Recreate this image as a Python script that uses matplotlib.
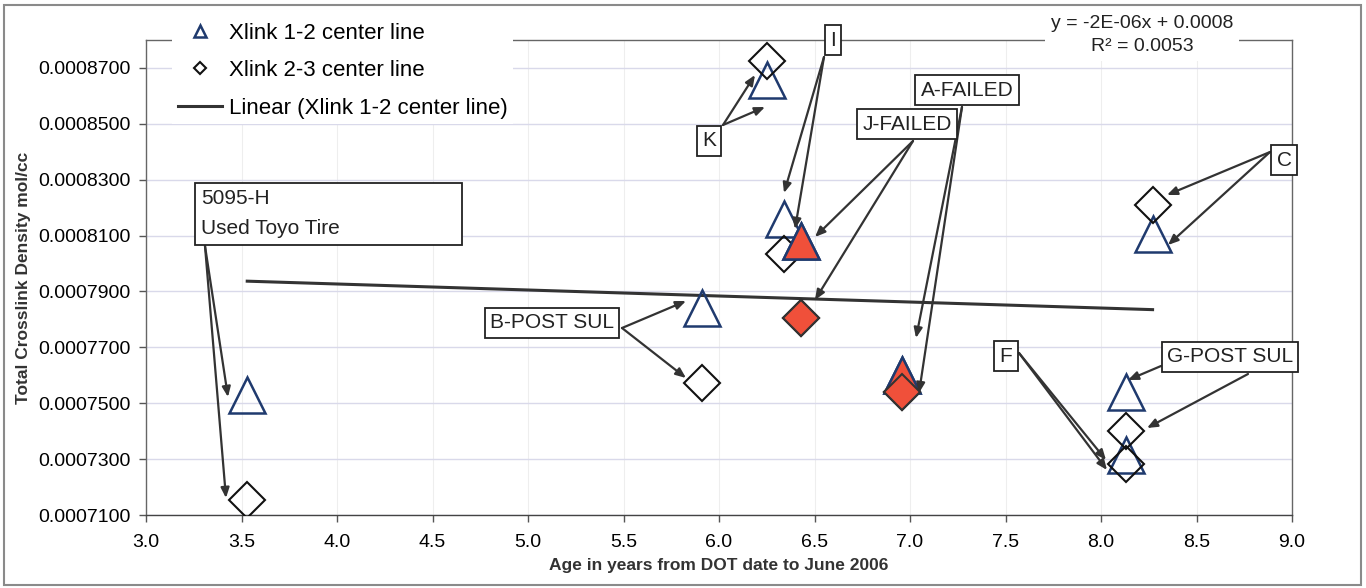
import numpy as np
import matplotlib.pyplot as plt
from matplotlib.patches import Rectangle
from matplotlib.ticker import FormatStrFormatter

plt.rcParams['font.family'] = ['Liberation Sans', 'DejaVu Sans']

# 数据：Xlink 1-2（三角形）与 Xlink 2-3（菱形）
age_12 = [3.53, 5.91, 6.25, 6.34, 6.43, 6.96, 8.13, 8.13, 8.27]
xlink_12 = [0.000753, 0.000784, 0.0008656, 0.000816, 0.000808, 0.000760,
            0.000754, 0.0007315, 0.0008105]
failed_12 = [False, False, False, False, True, True, False, False, False]

age_23 = [3.53, 5.91, 6.25, 6.34, 6.43, 6.96, 8.13, 8.13, 8.27]
xlink_23 = [0.0007154, 0.0007572, 0.0008724, 0.0008034, 0.0007805, 0.000754,
            0.000740, 0.0007282, 0.0008209]
failed_23 = [False, False, False, False, True, True, False, False, False]

x_ticks = np.arange(3.0, 9.01, 0.5)
y_ticks = np.arange(0.00071, 0.000871, 0.00002)

fig = plt.figure(figsize=(13.66, 5.88), dpi=100)
W, H = 1366, 588
L, R, T, B = 146, 1292, 40, 515
ax = fig.add_axes([L / W, 1 - B / H, (R - L) / W, (B - T) / H])


def axf(px, py):
    # 像素 -> 坐标轴比例
    return ((px - L) / (R - L), (B - py) / (B - T))


# 外框
fig.patches.append(Rectangle((4 / W, 3 / H), 1357 / W, 580 / H, transform=fig.transFigure,
                             fill=False, edgecolor='#8a8a8a', lw=1.5))

navy = '#1f3a6e'
red = '#f0503a'

a12 = np.array(age_12)
y12 = np.array(xlink_12)
a23 = np.array(age_23)
y23 = np.array(xlink_23)
f12 = np.array(failed_12)
f23 = np.array(failed_23)

ax.plot(a12, y12, '^', ms=26.5, mfc='none', mec=navy, mew=1.8, ls='none',
        label='Xlink 1-2 center line', zorder=4)
ax.plot(a23, y23, 'D', ms=18.5, mfc='none', mec='#111111', mew=1.5, ls='none',
        label='Xlink 2-3 center line', zorder=4)
ax.plot(a12[f12], y12[f12], '^', ms=26.5, mfc=red, mec=navy, mew=1.8, ls='none', zorder=5)
ax.plot(a23[f23], y23[f23], 'D', ms=18.5, mfc=red, mec='#333333', mew=1.5, ls='none', zorder=5)

# 线性趋势线
coef = np.polyfit(a12, y12, 1)
xt = np.array([a12.min(), a12.max()])
ax.plot(xt, np.polyval(coef, xt), '-', color='#333333', lw=2.2,
        label='Linear (Xlink 1-2 center line)', zorder=3)

ax.set_xlim(3.0, 9.0)
ax.set_ylim(0.00071, 0.00088)
ax.set_xticks(x_ticks)
ax.set_yticks(y_ticks)
ax.xaxis.set_major_formatter(FormatStrFormatter('%.1f'))
ax.yaxis.set_major_formatter(FormatStrFormatter('%.7f'))
ax.tick_params(axis='both', labelsize=14, length=5, width=1, color='#555555', pad=6)
ax.tick_params(axis='x', pad=9)
ax.grid(True, axis='y', color='#d9d9ea', lw=1)
ax.grid(True, axis='x', color='#eeeeee', lw=0.8)
ax.set_axisbelow(True)
for s in ax.spines.values():
    s.set_color('#666666')
    s.set_linewidth(1)
ax.spines['bottom'].set_color('#444444')

ax.set_xlabel('Age in years from DOT date to June 2006', fontsize=12.5, fontweight='bold',
              labelpad=5, color='#333333')
ax.set_ylabel('Total Crosslink Density mol/cc', fontsize=12.5, fontweight='bold',
              labelpad=5, color='#333333')

leg = ax.legend(loc='upper left', bbox_to_anchor=axf(172, 17), bbox_transform=ax.transAxes,
                borderaxespad=0, borderpad=0.25, handlelength=2.0, handletextpad=0.3,
                labelspacing=0.75, markerscale=0.35, fontsize=16, frameon=True,
                fancybox=False, framealpha=1)
leg.get_frame().set_facecolor('white')
leg.get_frame().set_edgecolor('none')
leg.set_zorder(10)

# 趋势线方程
ax.text(*axf(1142, 35), 'y = -2E-06x + 0.0008\nR² = 0.0053', transform=ax.transAxes,
        ha='center', va='center', fontsize=14, linespacing=1.45, color='#222222',
        bbox=dict(facecolor='white', edgecolor='none', pad=4), zorder=10, clip_on=False)

# 标注框
box_kw = dict(boxstyle='square,pad=0.25', facecolor='white', edgecolor='#222222', lw=1.3)
labels = [('K', 709, 141), ('I', 833, 40), ('J-FAILED', 907, 124), ('A-FAILED', 967, 90),
          ('B-POST SUL', 552, 323), ('C', 1284, 160), ('F', 1006, 356),
          ('G-POST SUL', 1230, 357)]
for txt, px, py in labels:
    ax.text(*axf(px, py), txt, transform=ax.transAxes, ha='center', va='center',
            fontsize=15, color='#222222', bbox=box_kw, zorder=9, clip_on=False)

x0, y0 = axf(195, 245)
x1, y1 = axf(462, 183)
ax.add_patch(Rectangle((x0, y0), x1 - x0, y1 - y0, transform=ax.transAxes,
                       facecolor='white', edgecolor='#222222', lw=1.3, zorder=8))
ax.text(*axf(201, 199), '5095-H', transform=ax.transAxes, ha='left', va='center',
        fontsize=15, color='#222222', zorder=9)
ax.text(*axf(201, 229), 'Used Toyo Tire', transform=ax.transAxes, ha='left', va='center',
        fontsize=15, color='#222222', zorder=9)

# 箭头
arrows = [((205, 246), (228, 397)), ((205, 246), (226, 498)),
          ((723, 125), (755, 75)), ((723, 125), (765, 107)),
          ((824, 57), (784, 193)), ((824, 57), (795, 229)),
          ((913, 141), (815, 237)), ((913, 141), (815, 300)),
          ((962, 107), (916, 338)), ((962, 107), (919, 393)),
          ((622, 328), (686, 301)), ((622, 328), (686, 378)),
          ((1270, 152), (1167, 195)), ((1270, 152), (1168, 245)),
          ((1019, 353), (1106, 460)), ((1019, 353), (1107, 470)),
          ((1161, 366), (1128, 380)), ((1248, 374), (1147, 428))]
for (sx, sy), (ex, ey) in arrows:
    ax.annotate('', xy=axf(ex, ey), xytext=axf(sx, sy), xycoords='axes fraction',
                textcoords='axes fraction',
                arrowprops=dict(arrowstyle='-|>,head_length=0.6,head_width=0.25',
                                color='#333333', lw=1.6, shrinkA=0, shrinkB=0),
                zorder=7)

fig.savefig('out.png', dpi=100)
